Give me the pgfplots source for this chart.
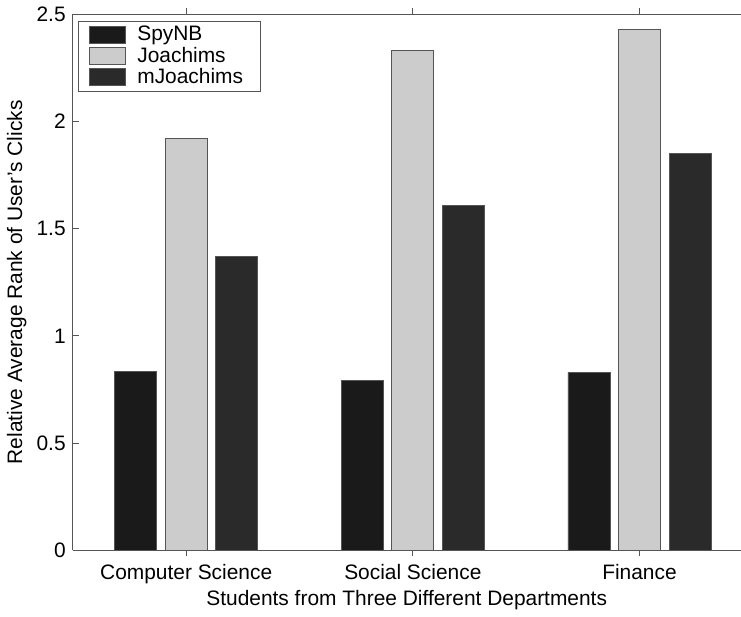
\documentclass[border=0pt]{standalone}
\usepackage{pgfplots}
\pgfplotsset{compat=1.18}
\usepackage{fontspec}
\setmainfont{Liberation Sans}
\definecolor{cA}{HTML}{1A1A1A}
\definecolor{cB}{HTML}{CCCCCC}
\definecolor{cC}{HTML}{2A2A2A}
\definecolor{edge}{HTML}{555555}
\begin{document}
\fontsize{21}{25}\selectfont
\begin{tikzpicture}
\begin{axis}[
  scale only axis,
  width=668bp, height=536bp,
  xmin=0.5, xmax=3.446,
  ymin=0, ymax=2.5,
  axis x line=box, axis y line*=left,
  axis line style={draw=edge, line width=0.8pt},
  xtick={1,2,3},
  xticklabels={Computer Science,Social Science,Finance},
  ytick={0,0.5,1,1.5,2,2.5},
  yticklabels={0,0.5,1,1.5,2,2.5},
  tick align=inside,
  major tick length=6bp,
  tick style={draw=edge, line width=0.8pt},
  xticklabel style={font=\fontsize{21}{25}\selectfont, yshift=-1bp},
  yticklabel style={font=\fontsize{21}{25}\selectfont},
  /pgf/number format/assume math mode=true,
  xlabel={Students from Three Different Departments},
  ylabel={Relative Average Rank of User's Clicks},
  label style={font=\fontsize{21}{25}\selectfont},
  xlabel style={yshift=8bp},
  ylabel style={yshift=-4bp},
  ybar, bar width=0.185,
  legend style={at={(0.008,0.988)}, anchor=north west, draw=edge, line width=0.8pt,
     font=\fontsize{21}{25}\selectfont, row sep=-1bp, inner sep=3bp,
     cells={anchor=west}},
  legend image code/.code={\draw[#1, line width=0.8pt] (0bp,-8bp) rectangle (36bp,9bp);
     \path (-7bp,0bp) (46bp,0bp);},
]
\addplot[bar shift=0, fill=cA, draw=edge, line width=0.8pt] coordinates {(0.777,0.835) (1.777,0.79) (2.777,0.83)};
\addplot[bar shift=0, fill=cB, draw=edge, line width=0.8pt] coordinates {(1,1.92) (2,2.33) (3,2.43)};
\addplot[bar shift=0, fill=cC, draw=edge, line width=0.8pt] coordinates {(1.223,1.37) (2.223,1.61) (3.223,1.85)};
\legend{SpyNB,Joachims,mJoachims\rule{12bp}{0pt}}
\end{axis}
\end{tikzpicture}
\end{document}
